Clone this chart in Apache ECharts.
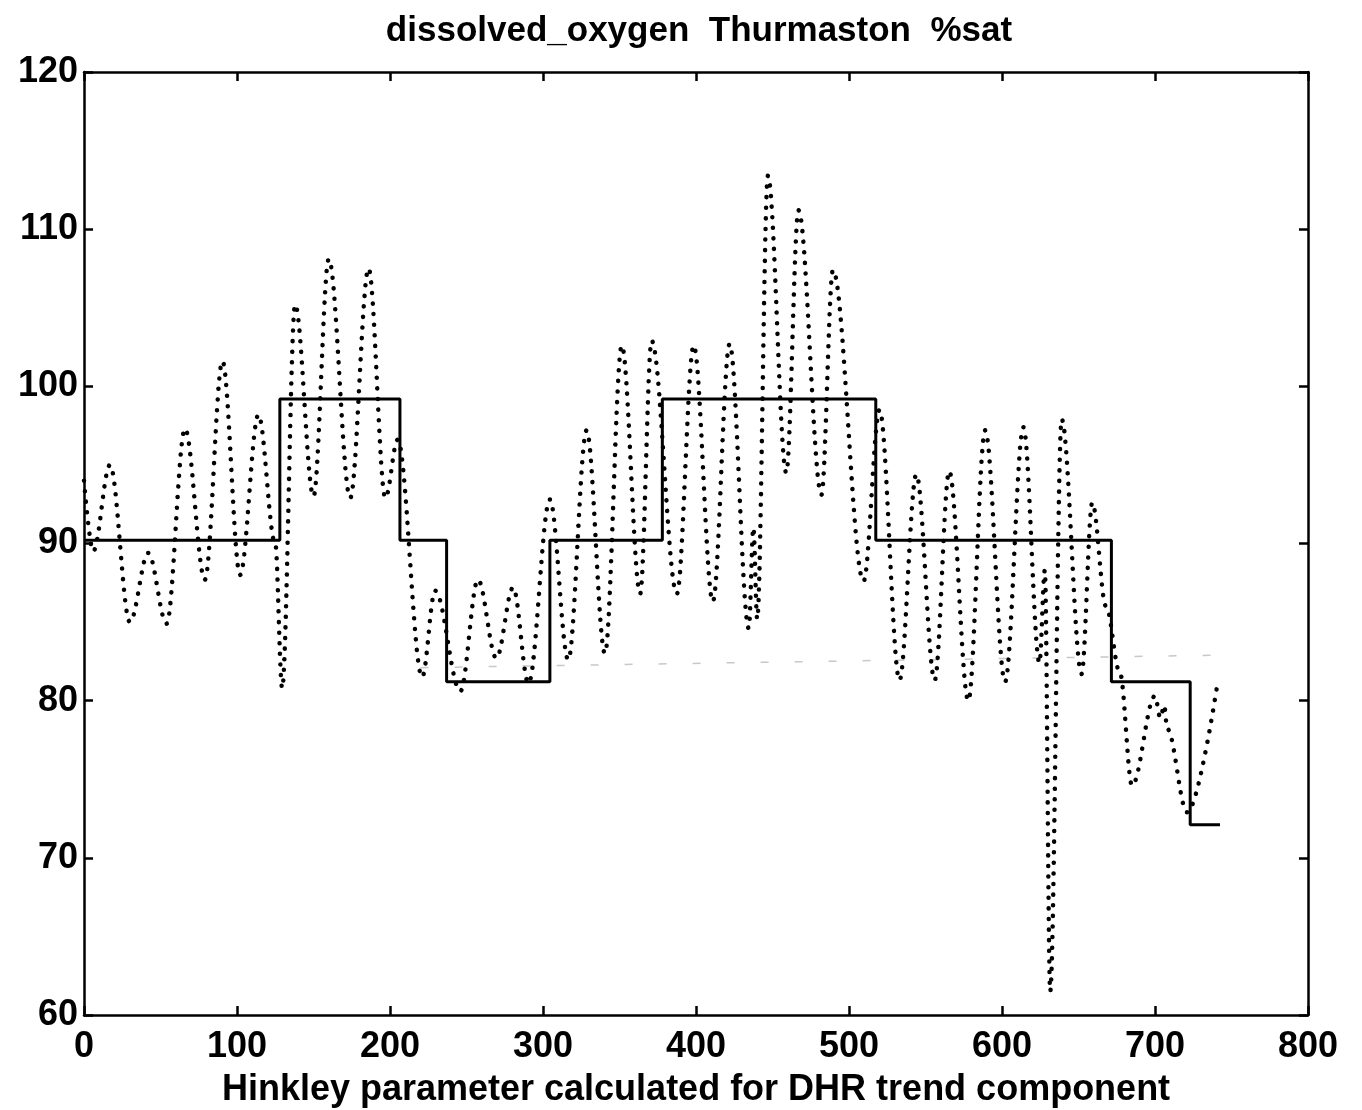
<!DOCTYPE html>
<html>
<head>
<meta charset="utf-8">
<script src="https://cdn.jsdelivr.net/npm/echarts@6/dist/echarts.min.js"></script>
<style>
html,body{margin:0;padding:0;background:#fff;}
#chart{width:1362px;height:1110px;}
</style>
</head>
<body>
<div id="chart"></div>
<script>
// x positions and values of the dotted (observed) series
const obsX = [0, 6, 17, 30, 42, 54, 66, 79, 90.5, 102, 114, 125, 129.5, 138, 150, 160, 174, 186, 197, 205,
  221, 229.5, 246, 257.5, 269.5, 280.5, 290.5, 304.5, 316.5, 328.5, 340.5, 351.5, 363.5, 371, 387.5, 398.5,
  411, 422, 434.5, 437.5, 440, 447, 459, 467, 482, 489.5, 509.5, 520, 533, 544, 556, 565.5, 578, 589, 602,
  614, 624.5, 628, 631.5, 639, 652, 659, 668, 677, 685, 700, 703.5, 706, 708, 721, 741];
const obsY = [94.0, 89.5, 95.0, 85.0, 89.4, 84.9, 97.3, 87.7, 101.6, 88.0, 98.2, 90.0, 80.8, 105.2, 93.0, 108.1, 92.9, 107.5, 92.9, 96.6,
  81.5, 87.0, 80.6, 87.7, 82.7, 87.2, 81.1, 92.8, 82.6, 97.2, 83.0, 102.6, 86.8, 102.9, 86.8, 102.6,
  86.3, 102.7, 84.6, 91.0, 85.2, 113.4, 94.5, 111.2, 93.1, 107.4, 87.6, 98.5, 81.3, 94.4, 81.3, 94.6, 80.0, 97.2, 81.2,
  97.4, 82.4, 88.3, 61.5, 97.9, 81.7, 92.6, 86.0, 81.8, 74.6, 80.3, 78.9, 79.7, 78.2, 72.9, 81.2];

// Hinkley step levels
const stepX = [0, 128, 206.5, 237, 304.5, 378, 517.5, 671.5, 723, 742.5];
const stepY = [90.2, 99.2, 90.2, 81.2, 90.2, 99.2, 90.2, 81.2, 72.1, 72.1];

// faint background dashed trace
const faintX = [220, 745];
const faintY = [82.1, 82.9];

const xTicks = [0, 100, 200, 300, 400, 500, 600, 700, 800];
const yTicks = [60, 70, 80, 90, 100, 110, 120];

const titleText = 'dissolved_oxygen  Thurmaston  %sat';
const xName = 'Hinkley parameter calculated for DHR trend component';

const zip = (a, b) => a.map((v, i) => [v, b[i]]);
const FONT = '"Liberation Sans", Arial, sans-serif';

const chart = echarts.init(document.getElementById('chart'));
const axisCommon = {
  axisLine: { show: true, onZero: false, lineStyle: { color: '#000', width: 2.5 } },
  axisTick: { show: true, inside: true, length: 9, lineStyle: { color: '#000', width: 2.5 } },
  splitLine: { show: false }
};
chart.setOption({
  animation: false,
  backgroundColor: '#fff',
  title: {
    text: titleText, left: 694, top: 9, textAlign: 'center',
    textStyle: { fontFamily: FONT, fontWeight: 'bold', fontSize: 35, color: '#000' }
  },
  grid: { left: 84, right: 54, top: 72, bottom: 95, containLabel: false, outerBoundsMode: 'none' },
  xAxis: [
    Object.assign({}, axisCommon, {
      type: 'value', min: xTicks[0], max: xTicks[xTicks.length - 1], interval: 100, position: 'bottom',
      name: xName, nameLocation: 'middle', nameGap: 57,
      nameTextStyle: { fontFamily: FONT, fontWeight: 'bold', fontSize: 36, color: '#000' },
      axisLabel: { show: true, margin: 14, fontFamily: FONT, fontWeight: 'bold', fontSize: 36, color: '#000' }
    }),
    Object.assign({}, axisCommon, {
      type: 'value', min: xTicks[0], max: xTicks[xTicks.length - 1], interval: 100, position: 'top',
      axisLabel: { show: false }
    })
  ],
  yAxis: [
    Object.assign({}, axisCommon, {
      type: 'value', min: yTicks[0], max: yTicks[yTicks.length - 1], interval: 10, position: 'left',
      axisLabel: { show: true, margin: 6, fontFamily: FONT, fontWeight: 'bold', fontSize: 36, color: '#000' }
    }),
    Object.assign({}, axisCommon, {
      type: 'value', min: yTicks[0], max: yTicks[yTicks.length - 1], interval: 10, position: 'right',
      axisLabel: { show: false }
    })
  ],
  series: [
    {
      type: 'line', data: zip(faintX, faintY), showSymbol: false, silent: true,
      lineStyle: { color: '#c8c8c8', width: 1.5, type: [8, 26] }, z: 1
    },
    {
      type: 'line', data: zip(obsX, obsY), showSymbol: false, smooth: 0.35, smoothMonotone: 'x',
      lineStyle: { color: '#000', width: 4.5, type: [0.1, 10.5], cap: 'round' }, z: 2
    },
    {
      type: 'line', data: zip(stepX, stepY), step: 'end', showSymbol: false,
      lineStyle: { color: '#000', width: 3 }, z: 3
    }
  ]
});
</script>
</body>
</html>
